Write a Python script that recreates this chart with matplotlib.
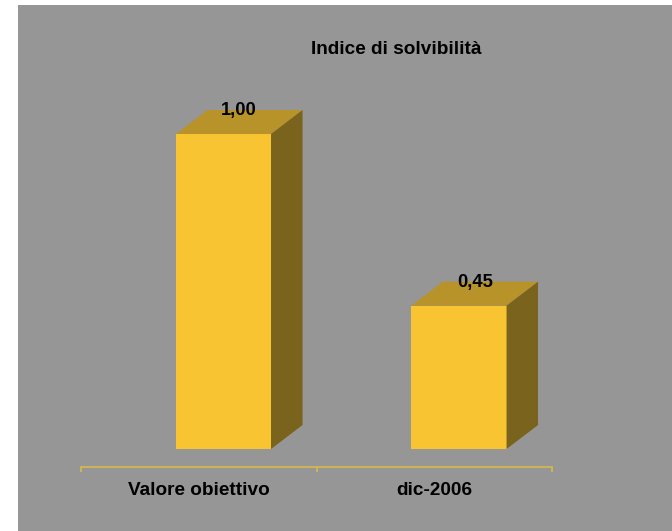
import matplotlib.pyplot as plt
from matplotlib.patches import Polygon, Rectangle

plt.rcParams['font.family'] = ['Liberation Sans', 'DejaVu Sans']

categories = ["Valore obiettivo", "dic-2006"]
values = [1.00, 0.455]
value_labels = ["1,00", "0,45"]
title = "Indice di solvibilità"

front_col = "#F8C431"
top_col = "#B8932A"
side_col = "#7A631C"
axis_col = "#D8B84C"
bg_col = "#969696"

W, H = 672, 531
fig = plt.figure(figsize=(W / 100, H / 100), dpi=100)
fig.patch.set_facecolor("white")
bg = Rectangle((18 / W, 0), 1 - 18 / W, 1 - 5 / H, transform=fig.transFigure,
               facecolor=bg_col, edgecolor="none", zorder=-10)
fig.add_artist(bg)

# axes: x in category units, y in value units (0 at bar base)
left, right = 81, 552
bottom_px, top_px = 467, 90
px_per_unit = 315.0
y0 = -(bottom_px - 449) / px_per_unit
y1 = (449 - top_px) / px_per_unit
ax = fig.add_axes([left / W, 1 - bottom_px / H, (right - left) / W, (bottom_px - top_px) / H])
ax.set_xlim(0, len(categories))
ax.set_ylim(y0, y1)
ax.patch.set_visible(False)

for s in ["top", "right", "left"]:
    ax.spines[s].set_visible(False)
ax.spines["bottom"].set_color(axis_col)
ax.spines["bottom"].set_linewidth(1.2)
ax.set_yticks([])
ax.set_xticks(range(len(categories) + 1))
ax.tick_params(axis="x", which="major", direction="out", length=3.8, width=1.2,
               color=axis_col, labelbottom=False)
ax.set_xticks([i + 0.5 for i in range(len(categories))], minor=True)
ax.set_xticklabels(categories, minor=True, fontsize=13.7, fontweight="bold", color="black")
ax.tick_params(axis="x", which="minor", length=0, pad=11)

off = 0.403
w = 0.404
dx = 31.5 / 235.5
dy = 24 / px_per_unit

for i, v in enumerate(values):
    x0 = i + off
    ax.bar(x0, v, width=w, align="edge", color=front_col, edgecolor="none", zorder=3)
    ax.add_patch(Polygon([(x0, v), (x0 + w, v), (x0 + w + dx, v + dy), (x0 + dx, v + dy)],
                         closed=True, facecolor=top_col, edgecolor="none", zorder=3))
    ax.add_patch(Polygon([(x0 + w, 0), (x0 + w + dx, dy), (x0 + w + dx, v + dy), (x0 + w, v)],
                         closed=True, facecolor=side_col, edgecolor="none", zorder=3))
    ax.text(x0 + w / 2 + dx / 2, v + 0.06, value_labels[i], ha="center", va="baseline",
            fontsize=13.2, fontweight="bold", color="black", zorder=4)

fig.text(396.5 / W, 1 - 54 / H, title, ha="center", va="baseline",
         fontsize=13.7, fontweight="bold", color="black")

fig.savefig("out.png", dpi=100, facecolor=fig.get_facecolor())
